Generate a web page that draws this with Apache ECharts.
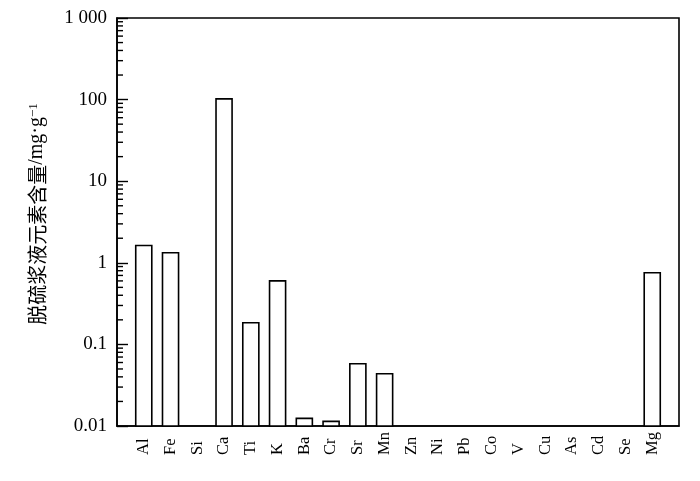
<!DOCTYPE html>
<html>
<head>
<meta charset="utf-8">
<script src="https://cdn.jsdelivr.net/npm/echarts@6/dist/echarts.min.js"></script>
<style>html,body{margin:0;padding:0;background:#fff;}#c{width:700px;height:481px;}</style>
</head>
<body>
<div id="c"></div>
<script>
const categories = ['Al','Fe','Si','Ca','Ti','K','Ba','Cr','Sr','Mn','Zn','Ni','Pb','Co','V','Cu','As','Cd','Se','Mg'];
const values = [1.63, 1.33, null, 102, 0.184, 0.60, 0.0124, 0.0114, 0.058, 0.0437, null, null, null, null, null, null, null, null, null, 0.754];
const yTickLabels = {'-2':'0.01','-1':'0.1','0':'1','1':'10','2':'100','3':'1 000'};
const yMin = 0.01, yMax = 1000;
const minorMultipliers = [2,3,4,5,6,7,8,9];
const decades = [0.01, 0.1, 1, 10, 100];

const axisCats = [''].concat(categories, ['']);
const barData = [];
values.forEach((v, i) => { if (v != null) barData.push([i + 1, v]); });
const minorData = [];
decades.forEach(d => minorMultipliers.forEach(m => minorData.push([0, +(d * m).toPrecision(3)])));

const serif = '"Liberation Serif", "Times New Roman", serif';
const chart = echarts.init(document.getElementById('c'), null, {renderer: 'canvas'});
chart.setOption({
  animation: false,
  grid: {left: 117, right: 21, top: 18, bottom: 55, show: true, borderColor: '#000', borderWidth: 1.6, backgroundColor: 'transparent'},
  xAxis: {
    type: 'category', data: axisCats, boundaryGap: false,
    axisLine: {lineStyle: {color: '#000', width: 1.6}},
    axisTick: {show: false},
    splitLine: {show: false},
    axisLabel: {rotate: 90, align: 'left', margin: 29, interval: 0, color: '#000', fontSize: 16.5, fontFamily: serif}
  },
  yAxis: {
    type: 'log', logBase: 10, min: yMin, max: yMax,
    axisLine: {show: true, lineStyle: {color: '#000', width: 1.6}},
    axisTick: {show: true, inside: true, length: 11, lineStyle: {color: '#000', width: 1.4}},
    splitLine: {show: false},
    axisLabel: {color: '#000', fontSize: 19, fontFamily: serif, margin: 10,
      formatter: v => yTickLabels[String(Math.round(Math.log10(v)))] || ''},
    name: '{c|脱硫浆液元素含量}{u|/mg·g}{s|−1}',
    nameLocation: 'middle', nameRotate: 90, nameGap: 70,
    nameTextStyle: {
      padding: [0, 0, 0, 16],
      rich: {
        c: {fontFamily: '"Noto Sans CJK SC"', fontSize: 20, color: '#000'},
        u: {fontFamily: serif, fontSize: 20, color: '#000'},
        s: {fontFamily: serif, fontSize: 13, color: '#000', verticalAlign: 'top'}
      }
    }
  },
  series: [
    {
      type: 'custom', data: barData, encode: {x: 0, y: 1},
      renderItem: function (params, api) {
        const x = api.value(0), v = api.value(1);
        const top = api.coord([x, v]);
        const base = api.coord([x, yMin]);
        const w = api.size([1, 0])[0] * 0.6;
        return {type: 'rect', shape: {x: top[0] - w / 2, y: top[1], width: w, height: base[1] - top[1]},
          style: {fill: '#fff', stroke: '#000', lineWidth: 1.6}};
      }
    },
    {
      type: 'custom', data: minorData, encode: {x: 0, y: 1}, silent: true,
      renderItem: function (params, api) {
        const p = api.coord([0, api.value(1)]);
        const x0 = params.coordSys.x;
        return {type: 'line', shape: {x1: x0, y1: p[1], x2: x0 + 6, y2: p[1]},
          style: {stroke: '#000', lineWidth: 1.4}};
      }
    }
  ]
});
</script>
</body>
</html>
